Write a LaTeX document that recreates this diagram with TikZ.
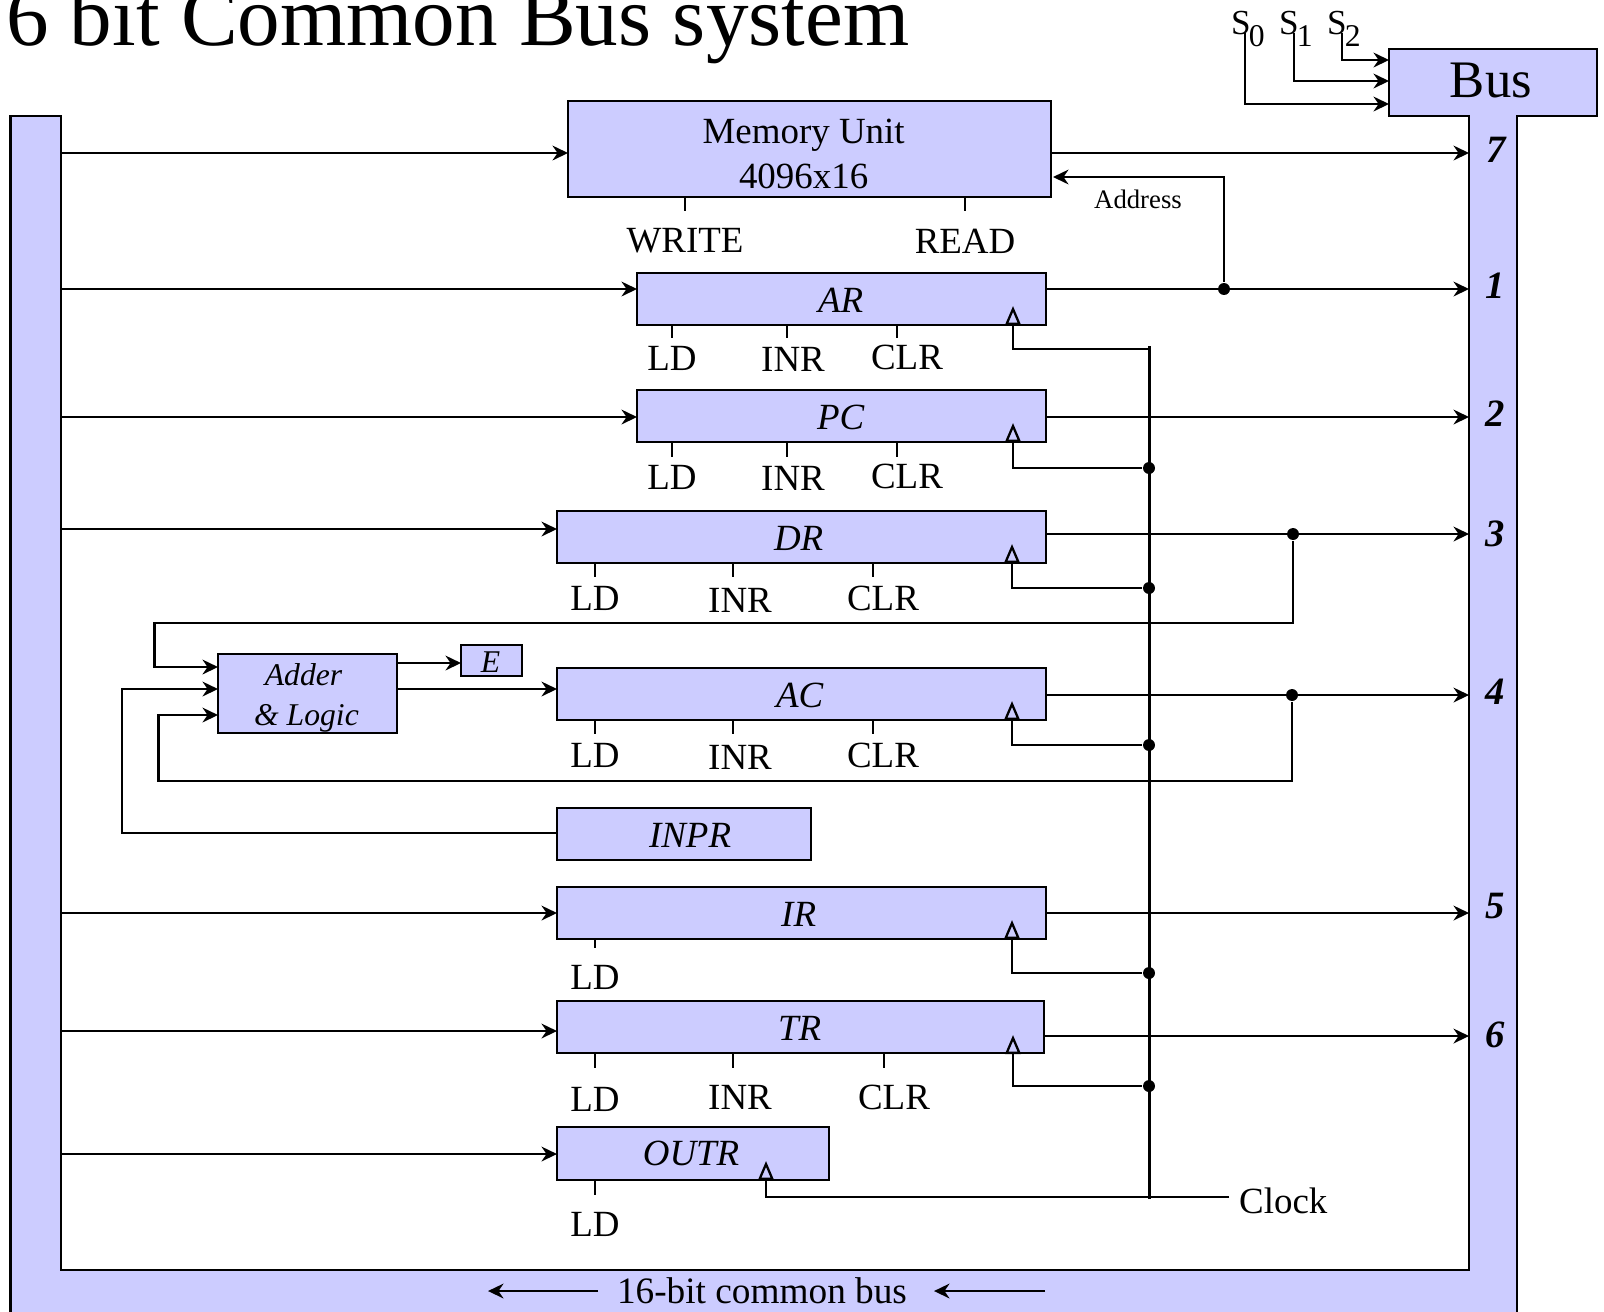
\documentclass[tikz,border=0pt]{standalone}
\usepackage{fontspec}
\setmainfont{Liberation Serif}
\usetikzlibrary{arrows.meta}
\definecolor{mlav}{rgb}{0.8, 0.8, 1}
\tikzset{arr/.style = {-{Stealth[length=4.4pt,width=4.2pt]}}}
\tikzset{clk/.style = {-{Triangle[open,length=5.4pt,width=4.4pt]}}}
\tikzset{circ/.style = {fill, circle, inner sep = 0, minimum size = 3.4}}
\tikzset{reg/.style = {draw, fill=mlav, anchor=north west, inner sep=0, outer sep=0, minimum height=0.52cm}}
\tikzset{rtxt/.style = {inner sep=0, font=\fontsize{10.5}{12.8}\selectfont\itshape}}
\tikzset{ctl/.style = {inner sep=0, font=\fontsize{10.5}{12.8}\selectfont}}
\tikzset{sel/.style = {inner sep=0, anchor=base west, font=\fontsize{10}{12}\selectfont}}
\tikzset{bnum/.style = {inner sep=0, font=\fontsize{11}{13}\selectfont\bfseries\itshape}}
\newcommand{\subd}[1]{\lower 3.6pt\hbox{\kern -0.5pt\fontsize{9}{9}\selectfont #1}}
\tikzset{every picture/.style={line width=0.65pt}}
\begin{document}
\begin{tikzpicture}[x=0.01cm, y=-0.01cm]
  \clip (0,0) rectangle (1604,1311);
  \draw[fill=mlav] (10.5,1330) -- (10.5,116) -- (61,116) -- (61,1270) -- (1469,1270)
    -- (1469,116) -- (1389,116) -- (1389,49) -- (1597,49) -- (1597,116) -- (1517,116)
    -- (1517,1330) -- cycle;
  \node[anchor=base west, inner sep=0, font=\fontsize{24.2}{29}\selectfont] (title) at (5,45) {6 bit Common Bus system};
  \node[inner sep=0, font=\fontsize{15}{18}\selectfont] (bus) at (1491,80) {Bus};
  % select lines
  \node[sel] (s0) at (1230,34) {S\subd{0}};
  \node[sel] (s1) at (1278,34) {S\subd{1}};
  \node[sel] (s2) at (1326,34) {S\subd{2}};
  \coordinate (s0a) at (1245,33);
  \coordinate (s1a) at (1294,33);
  \coordinate (s2a) at (1342,33);
  \coordinate (s0b) at (1389,104);
  \coordinate (s1b) at (1389,81);
  \coordinate (s2b) at (1389,60);
  \draw[arr] (s0a) |- (s0b);
  \draw[arr] (s1a) |- (s1b);
  \draw[arr] (s2a) |- (s2b);
  % registers
  \node[reg, minimum width=4.83cm, minimum height=0.96cm, label={[ctl, align=center, xshift=-0.06cm, yshift=-0.05cm]center:Memory Unit\\4096x16}] (mem) at (568,101) {};
  \node[reg, minimum width=4.09cm, label={[rtxt, xshift=-0.01cm, yshift=-0.01cm]center:AR}] (ar) at (637,273) {};
  \node[reg, minimum width=4.09cm, label={[rtxt, xshift=-0.01cm, yshift=-0.01cm]center:PC}] (pc) at (637,390) {};
  \node[reg, minimum width=4.89cm, label={[rtxt, xshift=-0.03cm, yshift=-0.01cm]center:DR}] (dr) at (557,511) {};
  \node[reg, minimum width=4.89cm, label={[rtxt, xshift=-0.02cm, yshift=-0.01cm]center:AC}] (ac) at (557,668) {};
  \node[reg, minimum width=2.54cm, label={[rtxt, xshift=0.06cm, yshift=-0.01cm]center:INPR}] (inpr) at (557,808) {};
  \node[reg, minimum width=4.89cm, label={[rtxt, xshift=-0.03cm, yshift=-0.01cm]center:IR}] (ir) at (557,887) {};
  \node[reg, minimum width=4.87cm, label={[rtxt, xshift=-0.01cm, yshift=-0.01cm]center:TR}] (tr) at (557,1001) {};
  \node[reg, minimum width=2.72cm, minimum height=0.53cm, label={[rtxt, xshift=-0.02cm]center:OUTR}] (outr) at (557,1127) {};
  \node[reg, minimum width=1.79cm, minimum height=0.79cm, label={[rtxt, align=center, font=\fontsize{9}{11.4}\selectfont\itshape, xshift=-0.01cm, yshift=-0.04cm]center:Adder\hspace*{0.06cm}\\\& Logic}] (adder) at (218,654) {};
  \node[reg, minimum width=0.61cm, minimum height=0.31cm, label={[rtxt, font=\fontsize{9}{11}\selectfont\itshape, xshift=-0.01cm, yshift=-0.02cm]center:E}] (e) at (461,645) {};
  % control labels
  \node[ctl] (wr) at (685,241) {WRITE};
  \node[ctl] (rd) at (965,241) {READ};
  \draw (mem.south -| wr) -- ++(0,14) (mem.south -| rd) -- ++(0,14);
  \node[ctl] (arld) at (672,358) {LD};
  \node[ctl] (arin) at (793,359) {INR};
  \node[ctl] (arcl) at (907,357) {CLR};
  \draw (672,325) -- ++(0,13) (787,325) -- ++(0,13) (897,325) -- ++(0,13);
  \node[ctl] (pcld) at (672,477) {LD};
  \node[ctl] (pcin) at (793,478) {INR};
  \node[ctl] (pccl) at (907,476) {CLR};
  \draw (672,442) -- ++(0,15) (787,442) -- ++(0,15) (897,442) -- ++(0,15);
  \node[ctl] (drld) at (595,598) {LD};
  \node[ctl] (drin) at (740,600) {INR};
  \node[ctl] (drcl) at (883,598) {CLR};
  \draw (595,563) -- ++(0,14) (733,563) -- ++(0,14) (873,563) -- ++(0,14);
  \node[ctl] (acld) at (595,755) {LD};
  \node[ctl] (acin) at (740,757) {INR};
  \node[ctl] (accl) at (883,755) {CLR};
  \draw (595,720) -- ++(0,14) (733,720) -- ++(0,14) (873,720) -- ++(0,14);
  \node[ctl] (irld) at (595,977) {LD};
  \draw (595,939) -- ++(0,9);
  \node[ctl] (trld) at (595,1099) {LD};
  \node[ctl] (trin) at (740,1097) {INR};
  \node[ctl] (trcl) at (894,1097) {CLR};
  \draw (595,1053) -- ++(0,15) (733,1053) -- ++(0,15) (884,1053) -- ++(0,15);
  \node[ctl] (outld) at (595,1224) {LD};
  \draw (595,1180) -- ++(0,15);
  % bus numbers
  \node[bnum] (n7) at (1496,150) {7};
  \node[bnum] (n1) at (1495,286) {1};
  \node[bnum] (n2) at (1495,414) {2};
  \node[bnum] (n3) at (1495,534) {3};
  \node[bnum] (n4) at (1495,692) {4};
  \node[bnum] (n5) at (1495,906) {5};
  \node[bnum] (n6) at (1495,1035) {6};
  % bus ends
  \coordinate (l0) at (61,153);
  \coordinate (l1) at (61,289);
  \coordinate (l2) at (61,417);
  \coordinate (l3) at (61,529);
  \coordinate (l5) at (61,913);
  \coordinate (l6) at (61,1031);
  \coordinate (l7) at (61,1154);
  \coordinate (r7) at (1469,153);
  \coordinate (r1) at (1469,289);
  \coordinate (r2) at (1469,417);
  \coordinate (r3) at (1469,534);
  \coordinate (r4) at (1469,695);
  \coordinate (r5) at (1469,913);
  \coordinate (r6) at (1469,1036);
  \draw[arr] (l0) -- (l0 -| mem.west);
  \draw[arr] (l1) -- (l1 -| ar.west);
  \draw[arr] (l2) -- (l2 -| pc.west);
  \draw[arr] (l3) -- (l3 -| dr.west);
  \draw[arr] (l5) -- (l5 -| ir.west);
  \draw[arr] (l6) -- (l6 -| tr.west);
  \draw[arr] (l7) -- (l7 -| outr.west);
  \draw[arr] (r7 -| mem.east) -- (r7);
  \draw[arr] (r1 -| ar.east) -- (r1);
  \draw[arr] (r2 -| pc.east) -- (r2);
  \draw[arr] (r3 -| dr.east) -- (r3);
  \draw[arr] (r4 -| ac.east) -- (r4);
  \draw[arr] (r5 -| ir.east) -- (r5);
  \draw[arr] (r6 -| tr.east) -- (r6);
  % address and feedback
  \node[circ] (dar) at (1224,289) {};
  \node[circ] (ddr) at (1293,534) {};
  \node[circ] (dac) at (1292,695) {};
  \coordinate (adrt) at (1053,177);
  \node[inner sep=0, font=\fontsize{7.6}{9}\selectfont] (addr) at (1138,199.5) {Address};
  \draw[arr] (dar) |- (adrt);
  \coordinate (fa) at (154.5,623);
  \coordinate (fb) at (218,667);
  \coordinate (ga) at (158.5,781);
  \coordinate (gb) at (218,715);
  \coordinate (ha) at (122,833);
  \coordinate (hb) at (218,689);
  \coordinate (ee) at (397,663);
  \draw[arr] (ddr) |- (fa) |- (fb);
  \draw[arr] (dac) |- (ga) |- (gb);
  \draw[arr] (ha -| inpr.west) -- (ha) |- (hb);
  \draw[arr] (ee) -- (ee -| e.west);
  \draw[arr] (hb -| adder.east) -- (hb -| ac.west);
  % clock
  \coordinate (cktop) at (1149,346);
  \coordinate (ckbot) at (1149,1199);
  \coordinate (ckar) at (1149,349);
  \coordinate (cke) at (1229,1197);
  \node[circ] (dpc) at (1149,468) {};
  \node[circ] (dddr) at (1149,588) {};
  \node[circ] (ddac) at (1149,745) {};
  \node[circ] (dir) at (1149,973) {};
  \node[circ] (dtr) at (1149,1086) {};
  \coordinate (aar) at (1013,306);
  \coordinate (apc) at (1013,423);
  \coordinate (adr) at (1012,544);
  \coordinate (aac) at (1012,701);
  \coordinate (air) at (1012,920);
  \coordinate (atr) at (1013,1035);
  \coordinate (aout) at (766,1161);
  \node[ctl, anchor=west] (clock) at (1238,1201) {Clock};
  \draw[line width=0.85pt] (cktop) -- (ckbot);
  \draw[clk] (ckar) -| (aar);
  \draw[clk] (dpc) -| (apc);
  \draw[clk] (dddr) -| (adr);
  \draw[clk] (ddac) -| (aac);
  \draw[clk] (dir) -| (air);
  \draw[clk] (dtr) -| (atr);
  \draw[clk] (cke) -| (aout);
  % bus caption
  \node[inner sep=0, font=\fontsize{10.6}{13}\selectfont] (cap) at (762,1291) {16-bit common bus};
  \coordinate (ca) at (598,1291);
  \coordinate (cb) at (488,1291);
  \coordinate (cc) at (1045,1291);
  \coordinate (cd) at (934,1291);
  \draw[arr] (ca) -- (cb);
  \draw[arr] (cc) -- (cd);
\end{tikzpicture}
\end{document}
